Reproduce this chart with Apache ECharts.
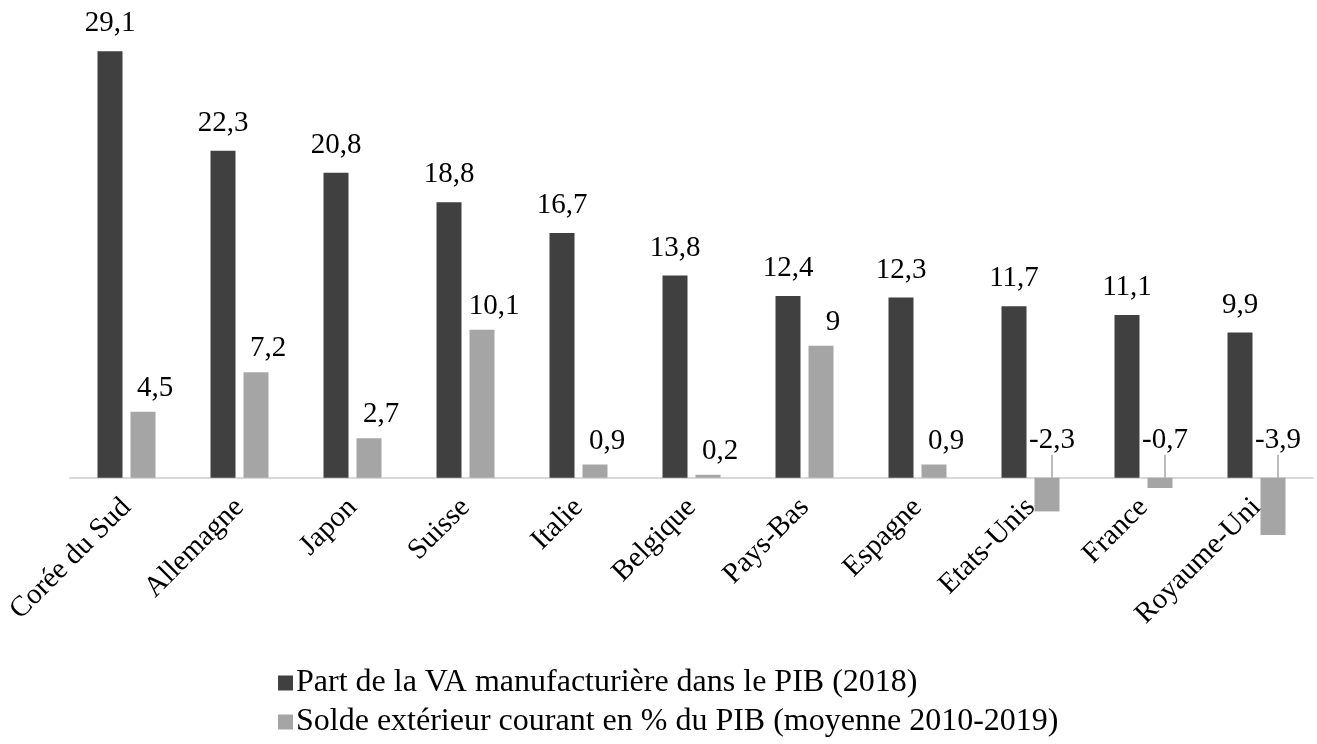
<!DOCTYPE html>
<html>
<head>
<meta charset="utf-8">
<script src="https://cdn.jsdelivr.net/npm/echarts@6/dist/echarts.min.js"></script>
<style>
  html, body { margin: 0; padding: 0; background: #fff; }
  #chart { width: 1317px; height: 744px; }
</style>
</head>
<body>
<div id="chart"></div>
<script>
const countries = ["Corée du Sud", "Allemagne", "Japon", "Suisse", "Italie", "Belgique",
  "Pays-Bas", "Espagne", "Etats-Unis", "France", "Royaume-Uni"];
const manufShare = [29.1, 22.3, 20.8, 18.8, 16.7, 13.8, 12.4, 12.3, 11.7, 11.1, 9.9];
const currentBalance = [4.5, 7.2, 2.7, 10.1, 0.9, 0.2, 9, 0.9, -2.3, -0.7, -3.9];
const seriesNames = [
  "Part de la VA manufacturière dans le PIB (2018)",
  "Solde extérieur courant en % du PIB (moyenne 2010-2019)",
];

const serif = "Liberation Serif";
const fontSize = 29;
const chart = echarts.init(document.getElementById("chart"));

function fmt(p) {
  return String(p.value).replace(".", ",");
}

// negative values get an Excel-like leader line, positive ones don't
const balanceData = currentBalance.map((v) => ({
  value: v,
  labelLine: { show: v < 0 },
}));

// one legend per row so they stack like the original
function legendRow(name, top) {
  return {
    left: 273,
    top: top,
    itemWidth: 15,
    itemHeight: 15,
    icon: "rect",
    textStyle: { fontFamily: serif, fontSize: 32, color: "#000", padding: [0, 0, 0, -2] },
    data: [name],
  };
}

const option = {
  animation: false,
  textStyle: { fontFamily: serif },
  grid: { left: 70, right: 4, top: 38, bottom: 193 },
  legend: [legendRow(seriesNames[0], 662), legendRow(seriesNames[1], 701)],
  xAxis: {
    type: "category",
    data: countries,
    axisLine: { lineStyle: { color: "#d9d9d9", width: 2 } },
    axisTick: { show: false },
    axisLabel: {
      rotate: 45,
      interval: 0,
      margin: -48,
      fontFamily: serif,
      fontSize: fontSize,
      color: "#000",
    },
  },
  yAxis: {
    type: "value",
    min: -5,
    max: 30,
    show: false,
    splitLine: { show: false },
  },
  series: [
    {
      name: seriesNames[0],
      type: "bar",
      data: manufShare,
      barWidth: 25,
      barGap: "32%",
      itemStyle: { color: "#404040" },
      label: {
        show: true,
        position: "top",
        distance: 13,
        formatter: fmt,
        fontFamily: serif,
        fontSize: fontSize,
        color: "#000",
      },
    },
    {
      name: seriesNames[1],
      type: "bar",
      data: balanceData,
      barWidth: 25,
      itemStyle: { color: "#a5a5a5" },
      label: {
        show: true,
        position: "top",
        distance: 9,
        formatter: fmt,
        fontFamily: serif,
        fontSize: fontSize,
        color: "#000",
      },
      labelLine: { lineStyle: { color: "#a5a5a5", width: 1.5 } },
      labelLayout: (params) => {
        const v = currentBalance[params.dataIndex];
        if (v < 0) {
          return { dy: -14, dx: 5 };
        }
        return { dx: 12 };
      },
    },
  ],
};

chart.setOption(option);
window.addEventListener("resize", chart.resize);
</script>
</body>
</html>
